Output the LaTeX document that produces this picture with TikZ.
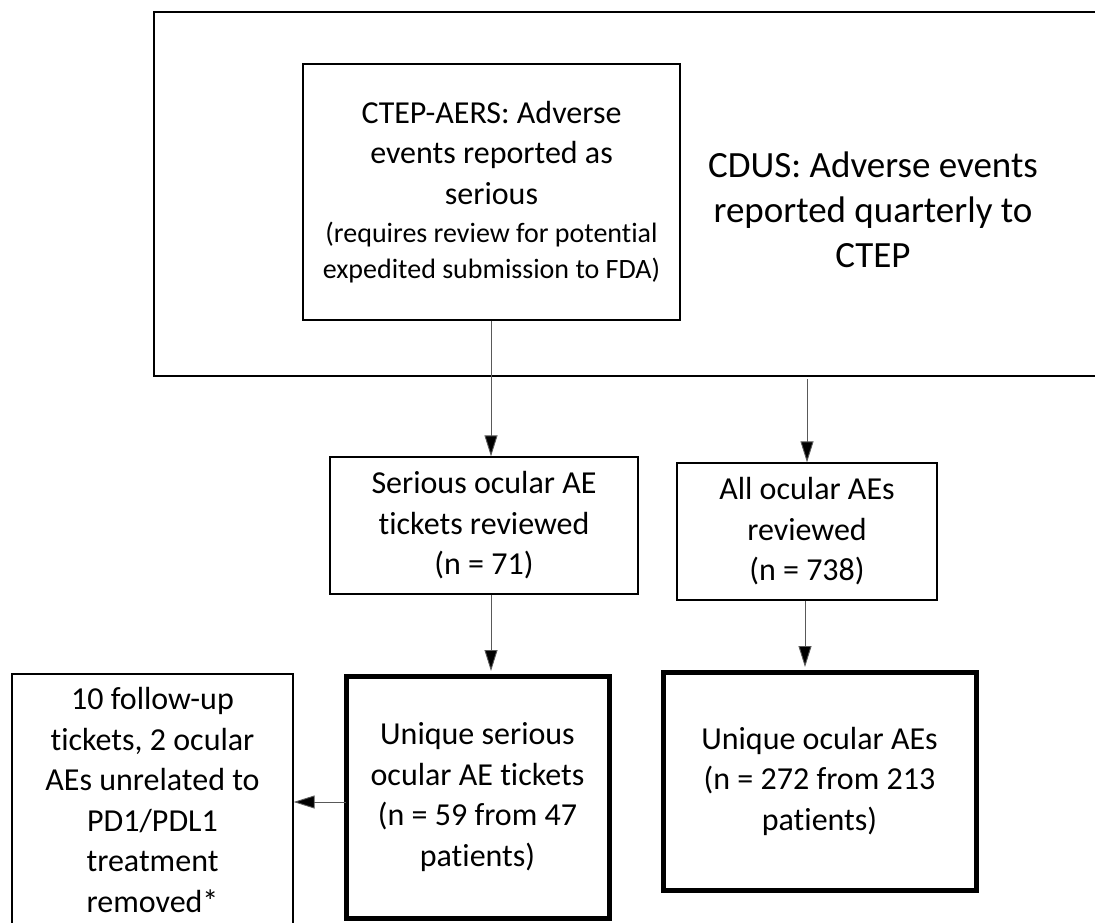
\documentclass[tikz,border=0pt]{standalone}
\usepackage{fontspec}
\setmainfont{Carlito}[Ligatures={NoCommon}]
\usetikzlibrary{arrows.meta,positioning}
\tikzset{
  thinbox/.style={draw=black, line width=1.3pt, inner sep=0pt, align=center,
    font=\fontsize{32}{40.5}\selectfont},
  thickbox/.style={draw=black, line width=5pt, inner sep=0pt, align=center,
    font=\fontsize{32}{40.5}\selectfont},
  arr/.style={draw=black!65, line width=0.9pt,
    -{Triangle[length=21pt,width=13pt,fill=black]}},
  outerline/.style={draw=black, line width=2pt}
}
\begin{document}
\begin{tikzpicture}[x=1pt,y=-1pt]
\useasboundingbox (0,0) rectangle (1095,923);
\clip (0,0) rectangle (1095,923);
% outer CDUS frame (right side runs off the page)
\coordinate (oTR) at (1110,12);
\coordinate (oTL) at (154,12);
\coordinate (oBL) at (154,376);
\coordinate (oBR) at (1110,376);
\draw[outerline] (oTR) -- (oTL) -- (oBL) -- (oBR);

\node[thinbox, minimum width=377pt, minimum height=256pt] (ctep) at (491.5,192)
  {CTEP-AERS: Adverse\\ events reported as\\ serious\\[-2pt]
   {\fontsize{28}{34}\selectfont (requires review for potential}\\[-5pt]
   {\fontsize{28}{34}\selectfont expedited submission to FDA)}};

\node[align=center, font=\fontsize{37}{45}\selectfont] (cdus) at (873,210)
  {CDUS: Adverse events\\ reported quarterly to\\ CTEP};

\node[thinbox, minimum width=308pt, minimum height=137pt] (serious) at (484,525.5)
  {Serious ocular AE\\ tickets reviewed\\ (n = 71)};

\node[thinbox, minimum width=260pt, minimum height=137pt] (allae) at (807,531.5)
  {All ocular AEs\\ reviewed\\ (n = 738)};

\node[thickbox, minimum width=263pt, minimum height=242pt] (useri) at (477.5,797)
  {Unique serious\\ ocular AE tickets\\ (n = 59 from 47\\ patients)};

\node[thickbox, minimum width=313pt, minimum height=218pt] (uocu) at (819.5,781)
  {Unique ocular AEs\\ (n = 272 from 213\\ patients)};

\node[thinbox, minimum width=281pt, minimum height=252pt] (removed) at (152.5,800)
  {10 follow-up\\ tickets, 2 ocular\\ AEs unrelated to\\ PD1/PDL1\\ treatment\\ removed*};

% connectors
\coordinate (xa) at (491,0);
\coordinate (xb) at (807,0);
\coordinate (xc) at (805,0);
\coordinate (cdusout) at (807,379);
\coordinate (ylev) at (0,802);
\draw[arr] (ctep.south -| xa) -- (serious.north -| xa);
\draw[arr] (cdusout) -- (allae.north -| xb);
\draw[arr] (serious.south -| xa) -- ([yshift=2.5pt]useri.north -| xa);
\draw[arr] (allae.south -| xc) -- ([yshift=2.5pt]uocu.north -| xc);
\draw[arr] ([xshift=2.5pt]useri.west |- ylev) -- (removed.east |- ylev);
\end{tikzpicture}
\end{document}
